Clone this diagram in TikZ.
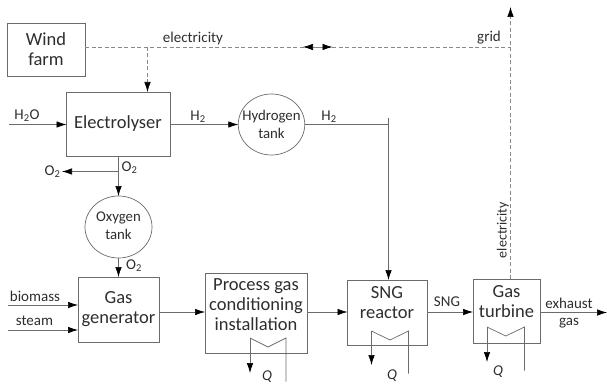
\documentclass[tikz,border=0pt]{standalone}
\usepackage{fontspec}
\setmainfont{Carlito}
\usetikzlibrary{arrows.meta,shapes.geometric,calc}
\definecolor{ln}{gray}{0.42}
\definecolor{tx}{gray}{0.18}
\tikzset{
 x=1pt,y=-1pt,
 every node/.style={text=tx,inner sep=0pt,outer sep=0pt},
 blk/.style={draw=ln,line width=0.9pt,fill=white,anchor=north west},
 blktxt/.style={align=center,font=\fontsize{18.5}{20}\selectfont},
 tank/.style={draw=ln,line width=0.7pt,fill=white,ellipse},
 tanktxt/.style={align=center,font=\fontsize{14.8}{17.5}\selectfont},
 lbl/.style={font=\fontsize{15}{16.5}\selectfont},
 qlbl/.style={font=\fontsize{15}{16.5}\selectfont\itshape},
 flow/.style={draw=ln,line width=0.7pt,-{Latex[length=10pt,width=6.5pt,black]}},
 pipe/.style={draw=ln,line width=0.7pt},
 elec/.style={draw=ln!80,line width=0.7pt,dash pattern=on 4pt off 2.5pt},
 elecflow/.style={elec,-{Latex[length=10pt,width=6.5pt,black]}},
}
\newcommand{\blockat}[5]{\node[blk,minimum width=#4,minimum height=#5] (#1) at (#2,#3) {};}
\newcommand{\hx}[5]{% name, x left, x right, y top, y bottom-of-pipe
 \coordinate (#1a) at (#2,#4);
 \coordinate (#1b) at (#3,#4);
 \coordinate (#1m) at ({(#2+#3)/2},#4+9);
 \coordinate (#1l) at (#2,#5);
 \coordinate (#1r) at (#3,#5+8.5);
 \draw[pipe] (#1a) -- (#1m) -- (#1b) -- (#1r);
 \draw[flow] (#1a) -- (#1l);
}
\begin{document}
\begin{tikzpicture}
\useasboundingbox (0,0) rectangle (607,385);
% blocks
\blockat{wind}{7}{23}{78pt}{53pt}
\node[blktxt] (windT) at (46,49.5) {Wind\\farm};
\blockat{ely}{66.5}{92}{103.5pt}{64pt}
\node[blktxt] (elyT) at (118,124) {Electrolyser};
\node[tank,minimum width=66.5pt,minimum height=61pt] (h2t) at (271.5,124.5) {};
\node[tanktxt] (h2tT) at (271.5,124.5) {Hydrogen\\tank};
\node[tank,minimum width=67pt,minimum height=62pt] (o2t) at (118.5,227) {};
\node[tanktxt] (o2tT) at (118.5,226) {Oxygen\\tank};
\blockat{gen}{78}{277}{81.5pt}{65pt}
\node[blktxt] (genT) at (118.5,309) {Gas\\generator};
\blockat{pgc}{205}{273}{102pt}{80pt}
\node[blktxt] (pgcT) at (256,305) {Process gas\\conditioning\\installation};
\blockat{sng}{347.5}{280}{79.5pt}{65pt}
\node[blktxt] (sngT) at (387,303) {SNG\\reactor};
\blockat{tur}{473}{279}{67pt}{64pt}
\node[blktxt] (turT) at (506.5,301.5) {Gas\\turbine};
% coordinates
\coordinate (eJ) at (147.5,47);
\coordinate (eMid) at (318,47);
\coordinate (eM1) at (303,47);
\coordinate (eM2) at (332.5,47);
\coordinate (gridJ) at (510.5,47);
\coordinate (gridTop) at (510.5,7);
\coordinate (h2oS) at (9,124.5);
\coordinate (o2J) at (118.5,171.5);
\coordinate (o2E) at (62,171.5);
\coordinate (h2C) at (388.5,124.5);
\coordinate (h2T) at (388.5,118);
\coordinate (bioS) at (8,305);
\coordinate (steS) at (8,330);
\coordinate (exE) at (607,312.5);
% electricity
\draw[elec] (wind.east |- eJ) -- (gridJ);
\draw[elecflow] (eMid) -- (eM1);
\draw[elecflow] (eMid) -- (eM2);
\draw[elecflow] (eJ) -- (eJ |- ely.north);
\draw[elecflow] (tur.north -| gridJ) -- (gridTop);
% flows
\draw[flow] (h2oS) -- (h2oS -| ely.west);
\draw[flow] (ely.east |- h2t.west) -- (h2t.west);
\draw[pipe] (h2t.east) -- (h2C);
\draw[pipe] (h2T) -- (h2C);
\draw[flow] (h2C) -- (h2C |- sng.north);
\draw[flow] (o2J |- ely.south) -- (o2t.north);
\draw[flow] (o2J) -- (o2E);
\draw[flow] (o2t.south) -- (o2t.south |- gen.north);
\draw[flow] (bioS) -- (bioS -| gen.west);
\draw[flow] (steS) -- (steS -| gen.west);
\draw[flow] (gen.east |- 0,312) -- (pgc.west |- 0,312);
\draw[flow] (pgc.east |- 0,312) -- (sng.west |- 0,312);
\draw[flow] (sng.east |- 0,312) -- (tur.west |- 0,312);
\draw[flow] (tur.east |- exE) -- (exE);
% heat exchangers
\hx{a}{250}{286}{338}{373}
\hx{b}{371.5}{408.5}{331}{365}
\hx{c}{487}{524.5}{327}{362}
% labels
\node[lbl] (t1) at (193,39) {electricity};
\node[lbl] (t2) at (489,38) {grid};
\node[lbl] (t3) at (27,115.5) {H\textsubscript{2}O};
\node[lbl] (t4) at (198,116.5) {H\textsubscript{2}};
\node[lbl] (t5) at (329,116.5) {H\textsubscript{2}};
\node[lbl] (t6) at (129.5,168) {O\textsubscript{2}};
\node[lbl] (t7) at (52.5,172) {O\textsubscript{2}};
\node[lbl] (t8) at (134,266) {O\textsubscript{2}};
\node[lbl] (t9) at (35,296) {biomass};
\node[lbl] (t10) at (34.5,321) {steam};
\node[lbl] (t11) at (447,301.5) {SNG};
\node[lbl,align=center] (t12) at (569,313) {exhaust\\[1pt]gas};
\node[lbl,rotate=90,font=\fontsize{14}{16}\selectfont] (t13) at (503,230) {electricity};
\node[qlbl] (q1) at (267,377) {Q};
\node[qlbl] (q2) at (392,376) {Q};
\node[qlbl] (q3) at (498,372) {Q};
\end{tikzpicture}
\end{document}
